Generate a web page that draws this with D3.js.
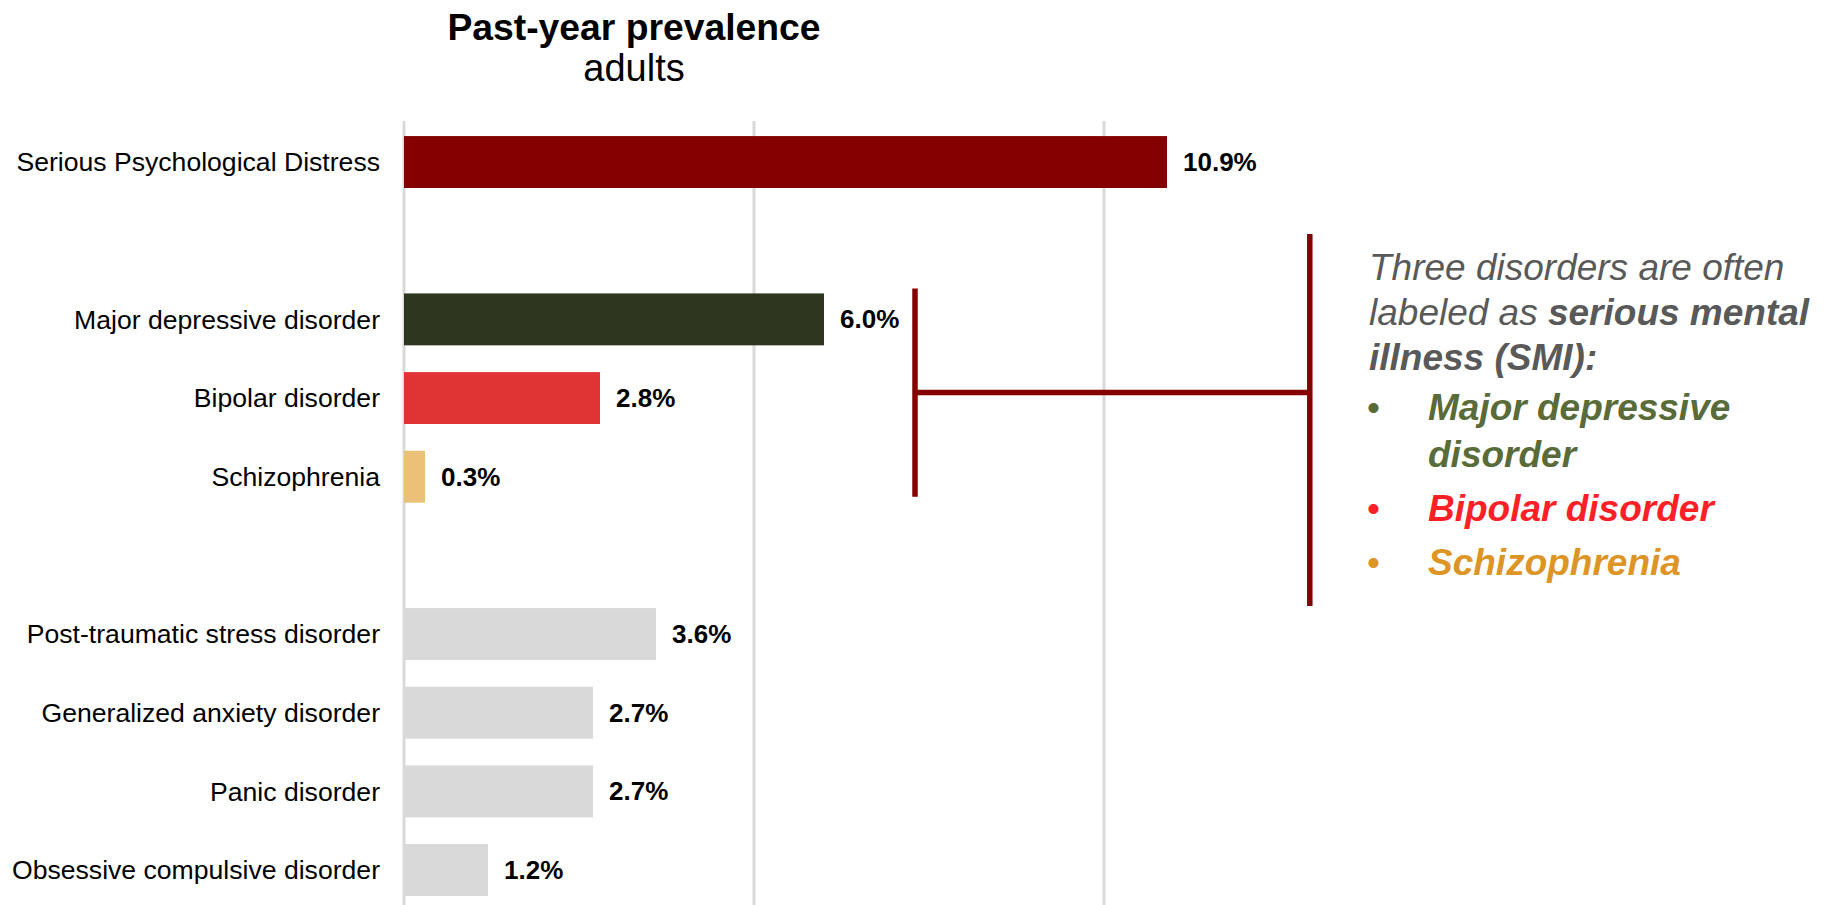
<!DOCTYPE html>
<html>
<head>
<meta charset="utf-8">
<script src="https://cdn.jsdelivr.net/npm/d3@7"></script>
<style>
  html, body { margin: 0; padding: 0; background: #fff; }
  svg { display: block; font-family: "Liberation Sans", Arial, sans-serif; }
</style>
</head>
<body>
<svg id="chart" width="1836" height="905"></svg>
<script>
// ---- data ----
const categories = [
  "Serious Psychological Distress",
  "Major depressive disorder",
  "Bipolar disorder",
  "Schizophrenia",
  "Post-traumatic stress disorder",
  "Generalized anxiety disorder",
  "Panic disorder",
  "Obsessive compulsive disorder"
];
const values = [10.9, 6.0, 2.8, 0.3, 3.6, 2.7, 2.7, 1.2];
const barColors = ["#850000", "#2f361f", "#e03434", "#ebc077", "#d9d9d9", "#d9d9d9", "#d9d9d9", "#d9d9d9"];
const gapsAfter = [0, 3];           // empty slot after these category indices
const gridTicks = [0, 5, 10];
const smiGroup = ["Major depressive disorder", "Bipolar disorder", "Schizophrenia"];
const noteLines = [
  [{t: "Three disorders are often", b: false}],
  [{t: "labeled as ", b: false}, {t: "serious mental", b: true}],
  [{t: "illness (SMI):", b: true}]
];
const bullets = [
  {lines: ["Major depressive", "disorder"], color: "#5a6b3a"},
  {lines: ["Bipolar disorder"], color: "#ff1f26"},
  {lines: ["Schizophrenia"], color: "#dd9526"}
];

// ---- layout ----
const svg = d3.select("#chart");
const slots = [];
categories.forEach((c, i) => {
  slots.push(c);
  if (gapsAfter.includes(i)) slots.push("__gap" + i);
});

const x = d3.scaleLinear().domain([0, 10]).range([404, 1104]);
const y = d3.scaleBand().domain(slots).range([122.7, 909.4]).paddingInner(0.34).paddingOuter(0.17);

// gridlines
svg.append("g").selectAll("line").data(gridTicks).join("line")
  .attr("x1", d => x(d)).attr("x2", d => x(d))
  .attr("y1", 121).attr("y2", 905)
  .attr("stroke", "#d9d9d9").attr("stroke-width", 3);

const data = categories.map((c, i) => ({c, v: values[i], color: barColors[i]}));

// bars
svg.append("g").selectAll("rect").data(data).join("rect")
  .attr("x", x(0))
  .attr("y", d => y(d.c))
  .attr("width", d => x(d.v) - x(0))
  .attr("height", y.bandwidth())
  .attr("fill", d => d.color);

// category labels
svg.append("g").selectAll("text").data(data).join("text")
  .attr("x", 380)
  .attr("y", d => y(d.c) + y.bandwidth() / 2)
  .attr("dy", "0.35em")
  .attr("text-anchor", "end")
  .attr("font-size", 26.6)
  .attr("fill", "#000")
  .text(d => d.c);

// value labels
svg.append("g").selectAll("text").data(data).join("text")
  .attr("x", d => x(d.v) + 16)
  .attr("y", d => y(d.c) + y.bandwidth() / 2)
  .attr("dy", "0.35em")
  .attr("font-size", 26)
  .attr("font-weight", "bold")
  .attr("fill", "#000")
  .text(d => d.v.toFixed(1) + "%");

// title
svg.append("text").attr("x", 634).attr("y", 40)
  .attr("text-anchor", "middle").attr("font-size", 37.3).attr("font-weight", "bold")
  .text("Past-year prevalence");
svg.append("text").attr("x", 634).attr("y", 81)
  .attr("text-anchor", "middle").attr("font-size", 38)
  .text("adults");

// bracket
const bracketColor = "#850000";
const gTop = y(smiGroup[0]) - 5;
const gBot = y(smiGroup[2]) + y.bandwidth() - 6;
const gMid = (gTop + gBot) / 2;
const bx1 = x(7.3), bx2 = x(12.94);
const br = svg.append("g").attr("stroke", bracketColor).attr("stroke-width", 5.5).attr("fill", "none");
br.append("line").attr("x1", bx1).attr("x2", bx1).attr("y1", gTop).attr("y2", gBot);
br.append("line").attr("x1", bx1).attr("x2", bx2).attr("y1", gMid).attr("y2", gMid);
br.append("line").attr("x1", bx2).attr("x2", bx2).attr("y1", 234).attr("y2", 606);

// note
const noteX = 1369;
const noteBase = [280, 325, 370];
const note = svg.append("g").attr("font-size", 37).attr("font-style", "italic").attr("fill", "#595959");
noteLines.forEach((segs, i) => {
  const t = note.append("text").attr("x", noteX).attr("y", noteBase[i]);
  segs.forEach(s => t.append("tspan").attr("font-weight", s.b ? "bold" : "normal").text(s.t));
});

const bulletBase = [[420, 467], [521], [575]];
bullets.forEach((b, i) => {
  const g = svg.append("g").attr("fill", b.color).attr("font-size", 37).attr("font-style", "italic").attr("font-weight", "bold");
  g.append("text").attr("x", 1367).attr("y", bulletBase[i][0]).attr("font-style", "normal").attr("font-weight", "normal").text("•");
  b.lines.forEach((l, j) => {
    g.append("text").attr("x", 1428).attr("y", bulletBase[i][j]).text(l);
  });
});
</script>
</body>
</html>
